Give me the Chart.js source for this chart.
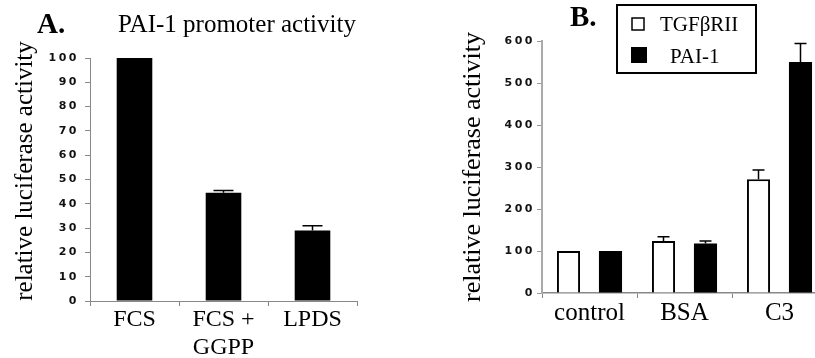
<!DOCTYPE html>
<html>
<head>
<meta charset="utf-8">
<script src="https://cdn.jsdelivr.net/npm/chart.js@4.4.0/dist/chart.umd.min.js"></script>
<style>
  html, body { margin: 0; padding: 0; background: #fff; overflow: hidden; }
  #page { position: relative; width: 815px; height: 358px; overflow: hidden; }
  #boxA { position: absolute; left: 0; top: 0; width: 400px; height: 358px; }
  #boxB { position: absolute; left: 400px; top: 0; width: 415px; height: 358px; overflow: hidden; }
</style>
</head>
<body>
<div id="page">
  <div id="boxA"><canvas id="chartA" width="400" height="358"></canvas></div>
  <div id="boxB"><canvas id="chartB" width="430" height="358"></canvas></div>
</div>
<script>
// Panel A - PAI-1 promoter activity
var panelACategories = [['FCS'], ['FCS +', 'GGPP'], ['LPDS']];
var panelAValues = [100, 44.5, 29];
var panelAErrors = [0, 1, 2];
var panelATickStep = 10;
var panelAMax = 100;

// Panel B - TGFbRII vs PAI-1
var panelBCategories = ['control', 'BSA', 'C3'];
var seriesLabels = ['TGF\u03B2RII', 'PAI-1'];
var tgfValues = [100, 124, 271];
var tgfErrors = [0, 10, 22];
var paiValues = [100, 118, 550];
var paiErrors = [0, 6, 44];
var panelBTickStep = 100;
var panelBMax = 600;

var serif = "'Liberation Serif', 'Times New Roman', serif";

// error bars, drawn from the y scale
var errorBars = {
    id: 'errorBars',
    afterDatasetsDraw: function (chart, args, opts) {
        var ctx = chart.ctx;
        var yScale = chart.scales.y;
        ctx.save();
        ctx.strokeStyle = '#000';
        ctx.lineWidth = 1.5;
        chart.data.datasets.forEach(function (ds, i) {
            var meta = chart.getDatasetMeta(i);
            meta.data.forEach(function (bar, j) {
                var err = ds.errors ? ds.errors[j] : 0;
                if (!err) return;
                var yTop = yScale.getPixelForValue(ds.data[j] + err);
                ctx.beginPath();
                ctx.moveTo(bar.x, bar.y);
                ctx.lineTo(bar.x, yTop);
                ctx.moveTo(bar.x - opts.cap / 2, yTop);
                ctx.lineTo(bar.x + opts.cap / 2, yTop);
                ctx.stroke();
            });
        });
        ctx.restore();
    }
};

// wide-spaced y tick numbers + panel texts
var figureText = {
    id: 'figureText',
    afterDraw: function (chart, args, opts) {
        var ctx = chart.ctx;
        var y = chart.scales.y;
        ctx.save();
        ctx.fillStyle = '#111';
        ctx.font = "bold 11px 'DejaVu Sans', sans-serif";
        ctx.letterSpacing = '2.5px';
        ctx.textAlign = 'right';
        ctx.textBaseline = 'middle';
        y.ticks.forEach(function (t, i) {
            ctx.fillText(String(t.value), y.right - opts.tickGap, y.getPixelForTick(i));
        });
        ctx.letterSpacing = '0px';
        ctx.fillStyle = '#000';
        ctx.textAlign = 'left';
        ctx.textBaseline = 'alphabetic';
        ctx.font = 'bold 29px ' + serif;
        ctx.fillText(opts.label.text, opts.label.x, opts.label.y);
        if (opts.heading) {
            ctx.font = '25px ' + serif;
            ctx.fillText(opts.heading.text, opts.heading.x, opts.heading.y);
        }
        ctx.translate(opts.yTitle.x, opts.yTitle.y);
        ctx.rotate(-Math.PI / 2);
        ctx.textAlign = 'center';
        ctx.font = opts.yTitle.size + 'px ' + serif;
        ctx.fillText(opts.yTitle.text, 0, 0);
        ctx.restore();
    }
};

// boxed legend for panel B
var boxLegend = {
    id: 'boxLegend',
    afterDraw: function (chart, args, opts) {
        var ctx = chart.ctx;
        ctx.save();
        ctx.strokeStyle = '#000';
        ctx.lineWidth = 2;
        ctx.strokeRect(opts.x, opts.y, opts.w, opts.h);
        ctx.font = '21px ' + serif;
        ctx.textBaseline = 'alphabetic';
        ctx.fillStyle = '#000';
        var ds = chart.data.datasets;
        // open box
        ctx.lineWidth = 1.5;
        ctx.strokeRect(opts.x + 15, opts.y + 13, 12, 12);
        ctx.fillText(ds[0].label, opts.x + 43, opts.y + 26);
        // filled box
        ctx.fillRect(opts.x + 14, opts.y + 42, 16, 16);
        ctx.fillText(ds[1].label, opts.x + 53, opts.y + 58);
        ctx.restore();
    }
};

Chart.register(errorBars, figureText, boxLegend);

window.createPanelA = function (canvasId) {
    var ctx = document.getElementById(canvasId).getContext('2d');
    return new Chart(ctx, {
        type: 'bar',
        data: {
            labels: panelACategories,
            datasets: [{
                data: panelAValues,
                errors: panelAErrors,
                backgroundColor: '#000',
                borderColor: '#000',
                barPercentage: 0.4,
                categoryPercentage: 1
            }]
        },
        options: {
            responsive: false,
            animation: false,
            devicePixelRatio: 1,
            layout: { padding: { left: 0, right: 43, top: 58, bottom: 0 } },
            plugins: {
                legend: { display: false },
                tooltip: { enabled: false },
                boxLegend: false,
                errorBars: { cap: 20 },
                figureText: {
                    tickGap: 11,
                    label: { text: 'A.', x: 37, y: 33 },
                    heading: { text: 'PAI-1 promoter activity', x: 118, y: 32 },
                    yTitle: { text: 'relative luciferase activity', x: 32, y: 171, size: 25 }
                }
            },
            scales: {
                x: {
                    grid: { drawOnChartArea: false, offset: true, tickLength: 5, color: '#888' },
                    border: { color: '#888', width: 1 },
                    ticks: { color: '#000', padding: 0, maxRotation: 0, autoSkip: false,
                             font: { family: serif, size: 24, lineHeight: 1.15 } },
                    afterFit: function (s) { s.height = 57; }
                },
                y: {
                    min: 0,
                    max: panelAMax,
                    ticks: { stepSize: panelATickStep, display: false },
                    grid: { drawOnChartArea: false, tickLength: 5, color: '#888' },
                    border: { color: '#888', width: 1 },
                    afterFit: function (s) { s.width = 90; }
                }
            }
        }
    });
};

window.createPanelB = function (canvasId) {
    var ctx = document.getElementById(canvasId).getContext('2d');
    return new Chart(ctx, {
        type: 'bar',
        data: {
            labels: panelBCategories,
            datasets: [{
                label: seriesLabels[0],
                data: tgfValues,
                errors: tgfErrors,
                backgroundColor: '#fff',
                borderColor: '#000',
                borderWidth: 2,
                barPercentage: 0.55,
                categoryPercentage: 0.884
            }, {
                label: seriesLabels[1],
                data: paiValues,
                errors: paiErrors,
                backgroundColor: '#000',
                borderColor: '#000',
                borderWidth: 0,
                barPercentage: 0.55,
                categoryPercentage: 0.884
            }]
        },
        options: {
            responsive: false,
            animation: false,
            devicePixelRatio: 1,
            layout: { padding: { left: 0, right: 3, top: 41, bottom: 0 } },
            plugins: {
                legend: { display: false },
                tooltip: { enabled: false },
                errorBars: { cap: 12 },
                boxLegend: { x: 217, y: 5, w: 139, h: 68 },
                figureText: {
                    tickGap: 7,
                    label: { text: 'B.', x: 170, y: 26 },
                    yTitle: { text: 'relative luciferase activity', x: 80, y: 167, size: 26 }
                }
            },
            scales: {
                x: {
                    grid: { drawOnChartArea: false, offset: true, tickLength: 5, color: '#888' },
                    border: { color: '#888', width: 1.5 },
                    ticks: { color: '#000', padding: 1, maxRotation: 0, autoSkip: false,
                             font: { family: serif, size: 25, lineHeight: 1.15 } },
                    afterFit: function (s) { s.height = 65; }
                },
                y: {
                    min: 0,
                    max: panelBMax,
                    ticks: { stepSize: panelBTickStep, display: false },
                    grid: { drawOnChartArea: false, tickLength: 5, color: '#999' },
                    border: { color: '#aaa', width: 2 },
                    afterFit: function (s) { s.width = 142; }
                }
            }
        }
    });
};

createPanelA('chartA');
createPanelB('chartB');
</script>
</body>
</html>
